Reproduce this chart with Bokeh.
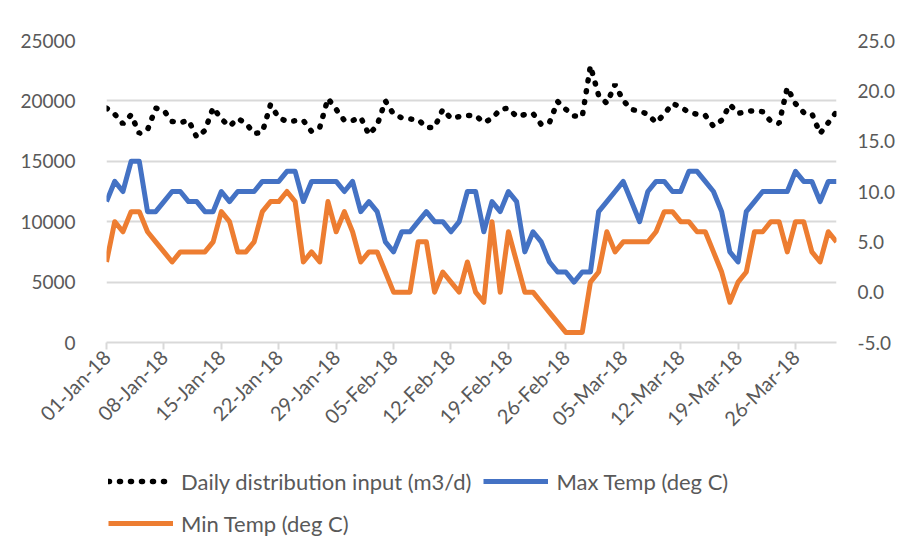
import math
from bokeh.plotting import figure
from bokeh.layouts import column
from bokeh.models import (Range1d, LinearAxis, FixedTicker, Legend, LegendItem,
                          NumeralTickFormatter)
from bokeh.embed import file_html
from bokeh.resources import INLINE

# ---------------- data ----------------
days = list(range(90))  # 01-Jan-18 .. 31-Mar-18

tick_days = [0, 7, 14, 21, 28, 35, 42, 49, 56, 63, 70, 77, 84]
tick_labels = ["01-Jan-18", "08-Jan-18", "15-Jan-18", "22-Jan-18", "29-Jan-18",
               "05-Feb-18", "12-Feb-18", "19-Feb-18", "26-Feb-18", "05-Mar-18",
               "12-Mar-18", "19-Mar-18", "26-Mar-18"]

distribution = [
    19400, 18900, 18100, 18850, 17300, 17600, 19400, 19200, 18300, 18200,
    18400, 17000, 17550, 19450, 18500, 17900, 18540, 18150, 17300, 17400,
    19700, 18600, 18300, 18350, 18380, 17470, 17800, 20200, 19300, 18380,
    18380, 18630, 17200, 18000, 20000, 18900, 18600, 18500, 18450, 17800,
    17800, 19300, 18550, 18700, 18790, 18790, 18210, 18540, 19300, 19400,
    18700, 18870, 18950, 18050, 18200, 19950, 19300, 18750, 18700, 22900,
    20450, 19800, 21360, 20030, 19290, 19150, 18900, 18200, 18900, 19780,
    19500, 19040, 18900, 18800, 17900, 18400, 19700, 18960, 19120, 19200,
    19100, 18300, 18130, 21100, 19780, 19040, 18950, 17300, 18200, 19100,
]

max_temp = [
    9, 11, 10, 13, 13, 8, 8, 9, 10, 10,
    9, 9, 8, 8, 10, 9, 10, 10, 10, 11,
    11, 11, 12, 12, 9, 11, 11, 11, 11, 10,
    11, 8, 9, 8, 5, 4, 6, 6, 7, 8,
    7, 7, 6, 7, 10, 10, 6, 9, 8, 10,
    9, 4, 6, 5, 3, 2, 2, 1, 2, 2,
    8, 9, 10, 11, 9, 7, 10, 11, 11, 10,
    10, 12, 12, 11, 10, 8, 4, 3, 8, 9,
    10, 10, 10, 10, 12, 11, 11, 9, 11, 11,
]

min_temp = [
    3, 7, 6, 8, 8, 6, 5, 4, 3, 4,
    4, 4, 4, 5, 8, 7, 4, 4, 5, 8,
    9, 9, 10, 9, 3, 4, 3, 9, 6, 8,
    6, 3, 4, 4, 2, 0, 0, 0, 5, 5,
    0, 2, 1, 0, 3, 0, -1, 7, 0, 6,
    3, 0, 0, -1, -2, -3, -4, -4, -4, 1,
    2, 6, 4, 5, 5, 5, 5, 6, 8, 8,
    7, 7, 6, 6, 4, 2, -1, 1, 2, 6,
    6, 7, 7, 4, 7, 7, 4, 3, 6, 5,
]

left_ticks = [0, 5000, 10000, 15000, 20000, 25000]
right_ticks = [-5, 0, 5, 10, 15, 20, 25]

series_names = ["Daily distribution input (m3/d)", "Max Temp (deg C)", "Min Temp (deg C)"]

# ---------------- style ----------------
FONT = "Lato"
TEXT = "#595959"
GRID = "#D9D9D9"
TICK_FS = "19px"
LEG_FS = "22px"
COLORS = ["black", "#4472C4", "#ED7D31"]

# ---------------- main chart ----------------
p = figure(width=907, height=445, output_backend="svg", toolbar_location=None,
           x_range=Range1d(0, 89), y_range=Range1d(0, 25000),
           min_border_left=106, min_border_right=71,
           min_border_top=40, min_border_bottom=103)
p.extra_y_ranges = {"temp": Range1d(-5, 25)}
p.outline_line_color = None
p.background_fill_color = "white"
p.border_fill_color = "white"

xa = p.xaxis[0]
xa.ticker = FixedTicker(ticks=tick_days)
xa.major_label_overrides = {d: lab for d, lab in zip(tick_days, tick_labels)}
xa.major_label_orientation = math.pi / 4
xa.axis_line_color = GRID
xa.axis_line_width = 2
xa.major_tick_line_color = GRID
xa.major_tick_line_width = 2
xa.major_tick_out = 7
xa.major_tick_in = 0
xa.minor_tick_line_color = None
xa.major_label_standoff = 4
xa.major_label_text_font = FONT
xa.major_label_text_font_size = "20px"
xa.major_label_text_color = TEXT

ya = p.yaxis[0]
ya.ticker = FixedTicker(ticks=left_ticks)
ya.formatter = NumeralTickFormatter(format="0")
ya.axis_line_color = None
ya.major_tick_line_color = None
ya.minor_tick_line_color = None
ya.major_label_standoff = 25
ya.major_label_text_font = FONT
ya.major_label_text_font_size = TICK_FS
ya.major_label_text_color = TEXT

ra = LinearAxis(y_range_name="temp", ticker=FixedTicker(ticks=right_ticks),
                formatter=NumeralTickFormatter(format="0.0"))
ra.axis_line_color = None
ra.major_tick_line_color = None
ra.minor_tick_line_color = None
ra.major_label_standoff = 15
ra.major_label_text_font = FONT
ra.major_label_text_font_size = TICK_FS
ra.major_label_text_color = TEXT
p.add_layout(ra, "right")

p.xgrid.visible = False
p.ygrid.ticker = FixedTicker(ticks=left_ticks)
p.ygrid.grid_line_color = GRID
p.ygrid.grid_line_width = 2

line_styles = [
    dict(line_color=COLORS[0], line_width=5.5, line_dash="1 10", line_cap="round"),
    dict(line_color=COLORS[1], line_width=5, line_join="round"),
    dict(line_color=COLORS[2], line_width=5, line_join="round"),
]

p.line(days, distribution, **line_styles[0])
p.line(days, max_temp, y_range_name="temp", **line_styles[1])
p.line(days, min_temp, y_range_name="temp", **line_styles[2])

# ---------------- legend strip ----------------
lg = figure(width=907, height=110, output_backend="svg", toolbar_location=None,
            x_range=Range1d(1000, 1001), y_range=Range1d(1000, 1001),
            x_axis_type=None, y_axis_type=None,
            min_border_left=0, min_border_right=0, min_border_top=0, min_border_bottom=0)
lg.outline_line_color = None
lg.grid.visible = False
lg.border_fill_color = "white"
lg.background_fill_color = "white"

lr1 = lg.line(days, distribution, **line_styles[0])
lr2 = lg.line(days, max_temp, **line_styles[1])
lr3 = lg.line(days, min_temp, **line_styles[2])

legend = Legend(items=[LegendItem(label=series_names[0], renderers=[lr1]),
                       LegendItem(label=series_names[1], renderers=[lr2]),
                       LegendItem(label=series_names[2], renderers=[lr3])],
                location=(2, 17), orientation="horizontal", ncols=2,
                glyph_width=65, glyph_height=20, label_height=30,
                spacing=12, padding=0, margin=0, label_standoff=8,
                border_line_color=None, background_fill_alpha=0,
                label_text_font=FONT, label_text_font_size=LEG_FS,
                label_text_color=TEXT)
lg.add_layout(legend, "center")

layout = column(p, lg, spacing=0)
open("out.html", "w").write(file_html(layout, INLINE))
